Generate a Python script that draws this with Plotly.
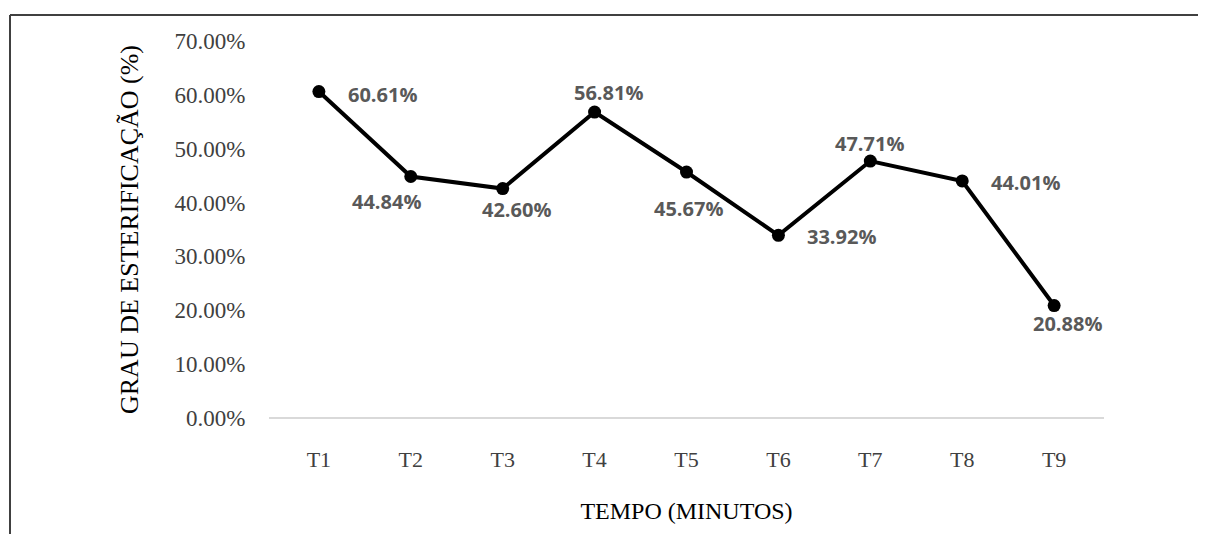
import plotly.graph_objects as go

categories = ["T1", "T2", "T3", "T4", "T5", "T6", "T7", "T8", "T9"]
values = [0.6061, 0.4484, 0.4260, 0.5681, 0.4567, 0.3392, 0.4771, 0.4401, 0.2088]
y_ticks = [0, 0.1, 0.2, 0.3, 0.4, 0.5, 0.6, 0.7]
# label offsets in pixels (dx, dy) relative to each point
label_dx = [64, -24, 14, 14, 2, 63, -1, 63, 13]
label_dy = [-3, -25, -21, 20, -36, -1, 18, -2, -18]

fig = go.Figure()
fig.add_trace(go.Scatter(
    x=categories, y=values, mode="lines+markers",
    line=dict(color="black", width=4),
    marker=dict(color="black", size=13),
    hoverinfo="skip", showlegend=False,
))

for c, v, dx, dy in zip(categories, values, label_dx, label_dy):
    fig.add_annotation(
        x=c, y=v, text=f"{v*100:.2f}%", showarrow=False,
        xshift=dx, yshift=dy,
        font=dict(family="Open Sans", size=20, color="#595959", weight="bold"),
    )

# page has an 8px body margin; compensate
OFF = 8
W, H = 1206 - OFF, 534 - OFF
ml, mr, mt, mb = 269 - OFF, 102, 41 - OFF, 116
pw = W - ml - mr
ph = H - mt - mb

def px(x):
    return (x - OFF - ml) / pw

def py(y):
    return (H - mb - (y - OFF)) / ph

border = dict(color="#404040", width=2)
fig.add_shape(type="line", xref="paper", yref="paper",
              x0=px(10), x1=px(1215), y0=py(15), y1=py(15), line=border)
fig.add_shape(type="line", xref="paper", yref="paper",
              x0=px(10), x1=px(10), y0=py(15), y1=py(545), line=border)

fig.update_layout(
    width=W, height=H,
    margin=dict(l=ml, r=mr, t=mt, b=mb, pad=0),
    paper_bgcolor="white", plot_bgcolor="white",
    xaxis=dict(
        type="category", showgrid=False, zeroline=False, showline=False,
        ticks="outside", ticklen=22, tickcolor="rgba(0,0,0,0)",
        tickfont=dict(family="Liberation Serif", size=22, color="#404040"),
        title=dict(text="TEMPO (MINUTOS)", standoff=30,
                   font=dict(family="Liberation Serif", size=24, color="black")),
    ),
    yaxis=dict(
        range=[0, 0.7], tickvals=y_ticks, tickformat=".2%",
        showgrid=False, zeroline=True, zerolinecolor="#d9d9d9", zerolinewidth=2,
        showline=False,
        ticks="outside", ticklen=18, tickcolor="rgba(0,0,0,0)",
        tickfont=dict(family="Liberation Serif", size=23, color="#404040"),
        title=dict(text="GRAU DE ESTERIFICAÇÃO (%)", standoff=28,
                   font=dict(family="Liberation Serif", size=26, color="black")),
    ),
)

fig.write_html("out.html")
